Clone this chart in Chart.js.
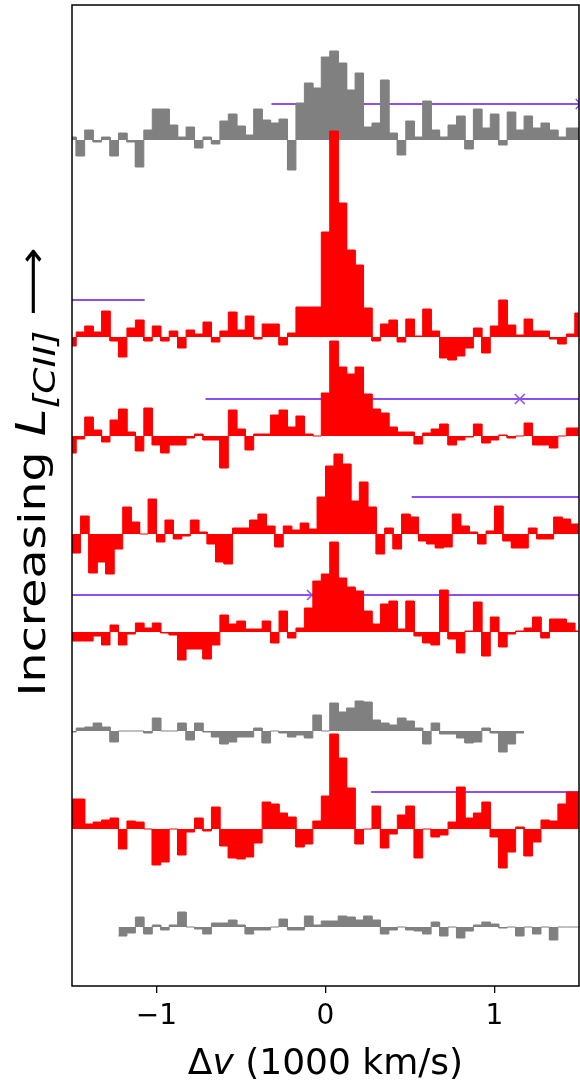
<!DOCTYPE html>
<html>
<head>
<meta charset="utf-8">
<script src="https://cdn.jsdelivr.net/npm/chart.js@4.4.1/dist/chart.umd.min.js"></script>
<style>
  html, body { margin: 0; padding: 0; background: #fff; }
</style>
</head>
<body>
<canvas id="spectra" width="580" height="1080"></canvas>
<script>
// velocity grid, in units of 1000 km/s
const binWidth = 0.05;
const xTicks = [-1, 0, 1];

// stacked spectra, top to bottom (flux in arbitrary units, baseline = 0)
const spec1 = [3, -16, 10, -2, 3, -16, 7, -2, -27, 10, 31, 31, 15, 3, 13, -8, 3, -4, 19, 26, 14, 5, 31, 20, 17, 21, -30, 37, 57, 52, 83, 89, 77, 50, 67, 13, 17, 60, 7, -15, 19, 3, 39, 10, 3, 15, 24, -9, 31, 12, 26, -5, 28, 10, 24, 12, 17, 10, 3, 12, 12];
const spec2 = [-9, 5, 11, 5, 26, -4, -20, 9, 17, -4, 11, -4, 6, -11, 7, 3, 15, -5, 6, 25, 7, 21, -2, 13, 13, -8, 4, 30, 30, 30, 105, 206, 134, 87, 72, 29, -4, 13, 17, -5, 18, 1, 28, 6, -21, -23, -19, -11, 9, -16, 11, 37, 12, 2, 18, 6, 6, -2, -7, 3, 24];
const spec3 = [-17, -3, 19, 6, -6, 16, 27, 4, -15, 28, -9, -17, -9, -9, -2, 2, -4, -4, -32, 26, 7, -14, 2, 2, 21, 26, 9, 20, 2, 0, 43, 95, 69, 62, 69, 42, 27, 23, 9, 4, 4, -8, 3, 7, 12, -9, -4, -1, 12, -7, -4, 1, -2, 0, 13, -9, -9, -12, 0, 8, 8];
const spec4 = [-19, 18, -39, -28, -40, -15, 27, 12, 0, 35, -8, 14, -5, -2, 14, 2, -10, -28, -30, 6, 6, 14, 20, 8, -13, 8, 4, 11, 5, 37, 68, 80, 70, 33, 52, 27, -20, 6, -15, 20, 17, -7, -10, -14, -13, 20, 8, 2, -10, 3, 28, -7, -14, -14, 6, -5, -5, 17, 15, 10];
const spec5 = [-9, -9, -9, -4, -13, 7, -13, -2, 9, 4, 9, -1, -3, -28, -17, -17, -27, -13, 17, 8, 11, 3, 3, 11, -11, 21, -6, 4, 24, 51, 58, 90, 54, 45, 41, 21, 8, 28, 31, 3, 31, -4, -11, -13, 42, -7, -21, 1, 30, -24, 15, -15, -2, 1, 4, 15, -6, 13, 13, 9, 1];
const spec6 = [-1, 3, 4, 8, 4, -11, 0, 0, 0, -2, 13, 0, 0, 8, -9, 8, -1, -6, -13, -11, -6, -6, 3, -12, 0, -2, -6, -4, -7, 16, 0, 28, 19, 23, 30, 29, 11, 8, 6, 13, 10, 3, -13, 8, -3, -3, -7, -12, -11, 3, -2, -21, -13, -2];
const spec7 = [30, 30, 5, 7, 9, 11, -20, 8, 7, 0, -36, -33, 0, -26, -3, 11, -2, 22, -17, -29, -30, -28, -14, 27, 25, 16, 12, -18, -15, 8, 33, 95, 71, 41, -15, 0, 23, -19, -5, 14, 23, -29, 0, -8, -6, 7, 42, 11, 16, 27, -8, -39, -23, 2, -27, -13, 9, 8, 25, 37, 37];
const spec8 = [-9, -6, 10, -7, 2, -3, 2, 15, 0, -2, -7, 4, 4, 7, 2, -7, -3, -3, 0, 8, -3, -3, 11, 2, 6, 6, 11, 10, 7, 11, 7, -7, -3, 0, -3, -4, -7, 5, -9, 0, -11, -4, 2, 5, 3, -1, 0, -9, 0, -7, 0, -13, 0, 0, 0];

const spectra = [spec1, spec2, spec3, spec4, spec5, spec6, spec7, spec8];
const specStart = [-1.525, -1.525, -1.525, -1.5, -1.525, -1.525, -1.525, -1.225];
const stackOffset = [846, 649, 550, 452, 354, 255, 157, 59];
const isDetected = [false, true, true, true, true, false, true, false];

// noise level lines (height above baseline, velocity range) and x markers
const limitLevel = [36, 37, 37, 37, 37, null, 37, null];
const limitFrom = [-0.32, -1.5, -0.71, 0.51, -1.5, null, 0.27, null];
const limitTo = [1.5, -1.07, 1.5, 1.5, 1.5, null, 1.5, null];
const markerSpec = [0, 2, 4];
const markerV = [1.51, 1.15, -0.08];

const RED = '#ff0000';
const GRAY = '#808080';
const PURPLE = 'rgb(140,80,240)';
const FONT = 'DejaVu Sans';

function stepPoints(values, start, off) {
  const pts = [];
  values.forEach((v, i) => {
    const x0 = start + i * binWidth;
    pts.push({ x: x0, y: off + v });
    pts.push({ x: x0 + binWidth, y: off + v });
  });
  return pts;
}

const datasets = [];

// purple lines behind everything
limitLevel.forEach((lvl, i) => {
  if (lvl === null) return;
  datasets.push({
    type: 'line',
    data: [{ x: limitFrom[i], y: stackOffset[i] + lvl }, { x: limitTo[i], y: stackOffset[i] + lvl }],
    borderColor: PURPLE,
    borderWidth: 2.2,
    pointRadius: 0,
    fill: false,
    order: 30
  });
});

datasets.push({
  type: 'scatter',
  data: markerSpec.map((s, k) => ({ x: markerV[k], y: stackOffset[s] + limitLevel[s] })),
  pointStyle: 'crossRot',
  pointRadius: 7,
  borderWidth: 1.6,
  borderColor: PURPLE,
  backgroundColor: PURPLE,
  order: 29
});

spectra.forEach((vals, i) => {
  const col = isDetected[i] ? RED : GRAY;
  datasets.push({
    type: 'line',
    data: stepPoints(vals, specStart[i], stackOffset[i]),
    borderColor: col,
    backgroundColor: col,
    borderWidth: 1,
    pointRadius: 0,
    tension: 0,
    fill: { value: stackOffset[i] },
    order: 20 - i
  });
});

function drawRuns(ctx, runs) {
  let total = 0;
  runs.forEach(r => { ctx.font = r.font; r.w = ctx.measureText(r.text).width; total += r.w; });
  let x = -total / 2;
  runs.forEach(r => {
    ctx.font = r.font;
    ctx.fillText(r.text, x, r.dy || 0);
    x += r.w;
  });
}

const frameAndTitles = {
  id: 'frameAndTitles',
  afterDraw(chart) {
    const { ctx, chartArea: a } = chart;
    ctx.save();
    ctx.strokeStyle = '#000';
    ctx.lineWidth = 1.5;
    ctx.strokeRect(a.left, a.top, a.right - a.left, a.bottom - a.top);

    ctx.fillStyle = '#000';
    ctx.textBaseline = 'alphabetic';
    ctx.textAlign = 'left';

    // x axis title
    ctx.save();
    ctx.translate((a.left + a.right) / 2, 1074);
    drawRuns(ctx, [
      { text: '\u0394', font: '36px ' + FONT },
      { text: 'v', font: 'italic 36px ' + FONT },
      { text: ' (1000 km/s)', font: '36px ' + FONT }
    ]);
    ctx.restore();

    // y axis title (stretched along its length like the original figure)
    ctx.save();
    ctx.translate(45, 472);
    ctx.rotate(-Math.PI / 2);
    ctx.scale(1.25, 1);
    drawRuns(ctx, [
      { text: 'Increasing ', font: '38px ' + FONT },
      { text: 'L', font: 'italic 40px ' + FONT },
      { text: '[CII]', font: 'italic 30px ' + FONT, dy: 10 },
      { text: ' \u27F6', font: '38px ' + FONT }
    ]);
    ctx.restore();

    ctx.restore();
  }
};

new Chart(document.getElementById('spectra'), {
  type: 'line',
  data: { datasets },
  options: {
    responsive: false,
    animation: false,
    devicePixelRatio: 1,
    layout: { autoPadding: false, padding: { top: 5, right: 1, left: 0, bottom: 0 } },
    plugins: { legend: { display: false }, tooltip: { enabled: false } },
    scales: {
      x: {
        type: 'linear',
        min: -1.5,
        max: 1.5,
        afterBuildTicks: s => { s.ticks = xTicks.map(v => ({ value: v })); },
        afterFit: s => { s.height = 94; },
        border: { display: false },
        grid: { drawOnChartArea: false, drawTicks: true, tickLength: 7, color: '#000', lineWidth: 1.3 },
        ticks: {
          color: '#000',
          padding: 7,
          font: { family: FONT, size: 28 },
          callback: v => (v < 0 ? '\u2212' + Math.abs(v) : String(v))
        }
      },
      y: {
        type: 'linear',
        min: 0,
        max: 981,
        afterFit: s => { s.width = 72; },
        border: { display: false },
        grid: { display: false },
        ticks: { display: false }
      }
    }
  },
  plugins: [frameAndTitles]
});
</script>
</body>
</html>
